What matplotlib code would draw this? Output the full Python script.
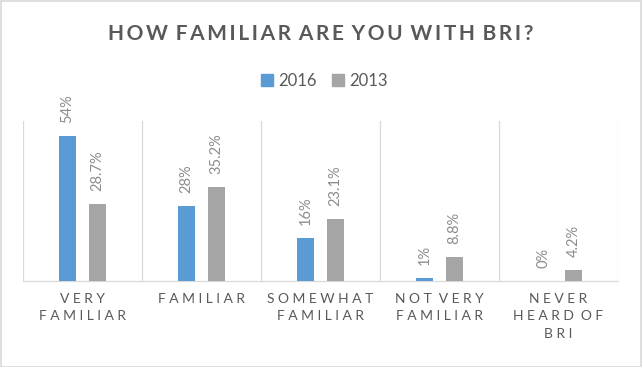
import numpy as np
import matplotlib.pyplot as plt
from matplotlib.patches import Rectangle, Patch

categories = ["VERY\nFAMILIAR", "FAMILIAR", "SOMEWHAT\nFAMILIAR", "NOT VERY\nFAMILIAR", "NEVER\nHEARD OF\nBRI"]
vals_2016 = [54, 28, 16, 1, 0]
vals_2013 = [28.7, 35.2, 23.1, 8.8, 4.2]
labels_2016 = ["54%", "28%", "16%", "1%", "0%"]
labels_2013 = ["28.7%", "35.2%", "23.1%", "8.8%", "4.2%"]

BLUE = "#5B9BD5"
GRAY = "#A5A5A5"
DARK = "#595959"
LABEL = "#8C8C8C"
GRID = "#D9D9D9"
FONT = ["Lato", "DejaVu Sans"]


def spaced(s, sp="\u2009"):
    # fake letter spacing with narrow unicode spaces
    lines = []
    for line in s.split("\n"):
        t = sp.join(line)
        lines.append(t.replace(sp + " " + sp, " " + sp))
    return "\n".join(lines)


plt.rcParams["font.family"] = FONT

fig = plt.figure(figsize=(6.42, 3.67), dpi=100)
ax = fig.add_axes([23 / 642, 1 - 281 / 367, 595 / 642, 160 / 367])

x = np.arange(len(categories))
w = 0.135
off = 0.126
ax.bar(x - off, vals_2016, width=w, color=BLUE, zorder=3)
ax.bar(x + off, vals_2013, width=w, color=GRAY, zorder=3)

for xi, v, lab in zip(x - off, vals_2016, labels_2016):
    ax.annotate(lab, (xi, v), xytext=(0, 13), textcoords="offset pixels",
                rotation=90, ha="center", va="bottom", fontsize=10.5, color=LABEL)
for xi, v, lab in zip(x + off, vals_2013, labels_2013):
    ax.annotate(lab, (xi, v), xytext=(0, 13), textcoords="offset pixels",
                rotation=90, ha="center", va="bottom", fontsize=10.5, color=LABEL)

ax.set_xlim(-0.5, len(categories) - 0.5)
ax.set_ylim(0, 59.6)
for b in np.arange(-0.5, len(categories), 1.0):
    ax.axvline(b, color=GRID, lw=0.9, zorder=1)
for s in ["top", "left", "right"]:
    ax.spines[s].set_visible(False)
ax.spines["bottom"].set_color(GRID)
ax.spines["bottom"].set_linewidth(0.9)
ax.set_yticks([])
ax.set_xticks([])

for xi, cat in zip(x, categories):
    ax.text(xi, -0.075, spaced(cat, "\u2005"), transform=ax.get_xaxis_transform(),
            ha="center", va="top", fontsize=10, color=DARK, linespacing=1.55)

fig.text(0.5, 1 - 34 / 367, spaced("HOW FAMILIAR ARE YOU WITH BRI?", "\u2009"),
         ha="center", va="center", fontsize=15, fontweight="bold", color=DARK)

handles = [Patch(color=BLUE, label="2016"), Patch(color=GRAY, label="2013")]
fig.legend(handles=handles, loc="center", bbox_to_anchor=(0.505, 1 - 81 / 367), ncol=2,
           frameon=False, fontsize=12, handlelength=0.75, handleheight=0.75,
           handletextpad=0.3, columnspacing=0.9, labelcolor=DARK)

fig.add_artist(Rectangle((0.001, 0.001), 0.997, 0.996, transform=fig.transFigure,
                         fill=False, edgecolor=GRID, lw=1.2))

fig.savefig("out.png", dpi=100)
